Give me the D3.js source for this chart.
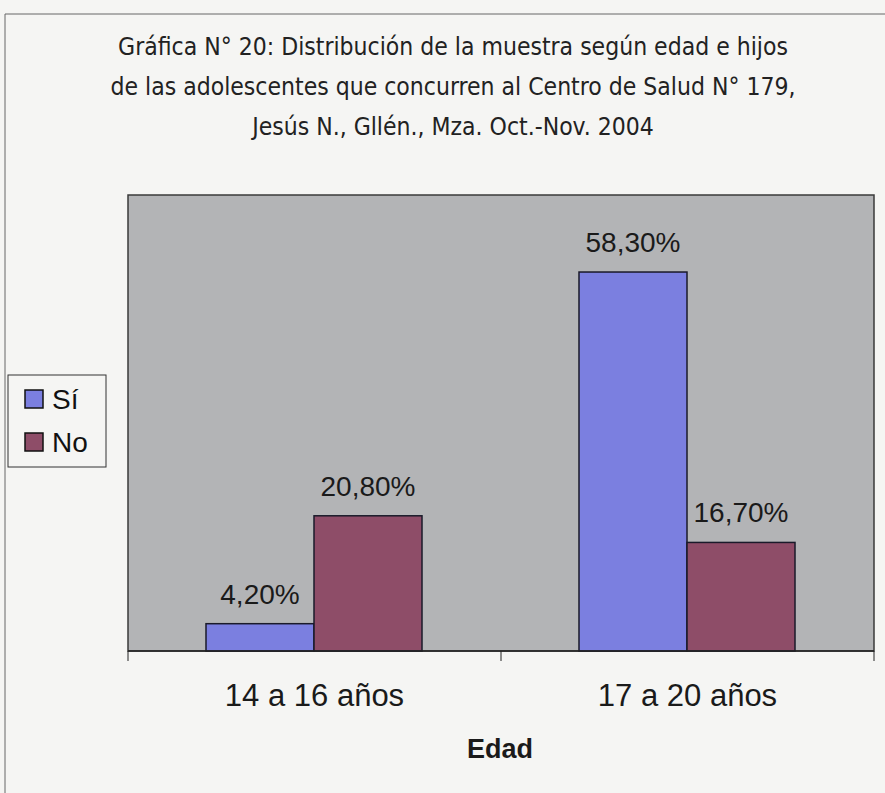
<!DOCTYPE html>
<html>
<head>
<meta charset="utf-8">
<script src="https://d3js.org/d3.v7.min.js"></script>
<style>
  body { margin: 0; background: #f5f5f3; }
  text { font-family: "Liberation Sans", Arial, sans-serif; }
</style>
</head>
<body>
<svg id="svg" width="885" height="793"></svg>
<script>
// data
var categories = ["14 a 16 años", "17 a 20 años"];
var series = ["Sí", "No"];
var siValues = [4.2, 58.3];
var noValues = [20.8, 16.7];
var valueLabels = [["4,20%", "20,80%"], ["58,30%", "16,70%"]];
var titleLines = [
  "Gráfica N° 20: Distribución de la muestra según edad e hijos",
  "de las adolescentes que concurren al Centro de Salud N° 179,",
  "Jesús N., Gllén., Mza. Oct.-Nov. 2004"
];
var colors = ["#7b7fe0", "#8e4d68"];

var svg = d3.select("#svg");
svg.append("rect").attr("width", 885).attr("height", 793).attr("fill", "#f5f5f3");

// outer chart frame
svg.append("path").attr("d", "M5,793 V14 H885").attr("fill", "none").attr("stroke", "#666").attr("stroke-width", 1);

var plot = { left: 128, right: 874, top: 195, bottom: 651 };

var x0 = d3.scaleBand().domain(categories).range([plot.left, plot.right]).padding(0);
var x1 = d3.scaleBand().domain(series).range([78, x0.bandwidth() - 79]).padding(0);
var y = d3.scaleLinear().domain([0, 70.15]).range([plot.bottom, plot.top]);

// title
svg.selectAll(".title").data(titleLines).enter().append("text")
  .attr("class", "title")
  .attr("x", 453)
  .attr("y", function (d, i) { return 55 + i * 40; })
  .attr("text-anchor", "middle")
  .style("font-family", "'DejaVu Sans Condensed', 'DejaVu Sans', sans-serif")
  .style("font-size", "24.5px")
  .attr("fill", "#222")
  .text(function (d) { return d; });

// plot area
svg.append("rect")
  .attr("x", plot.left).attr("y", plot.top)
  .attr("width", plot.right - plot.left).attr("height", plot.bottom - plot.top)
  .attr("fill", "#b3b4b6").attr("stroke", "#3a3a3a").attr("stroke-width", 1.5);

var rows = categories.map(function (c, i) {
  return { cat: c, vals: [siValues[i], noValues[i]], labels: valueLabels[i] };
});

var groups = svg.selectAll(".grp").data(rows).enter().append("g")
  .attr("transform", function (d) { return "translate(" + x0(d.cat) + ",0)"; });

groups.selectAll("rect").data(function (d) {
  return series.map(function (s, j) { return { s: s, v: d.vals[j], j: j }; });
}).enter().append("rect")
  .attr("x", function (d) { return x1(d.s); })
  .attr("y", function (d) { return y(d.v); })
  .attr("width", x1.bandwidth())
  .attr("height", function (d) { return y(0) - y(d.v); })
  .attr("fill", function (d) { return colors[d.j]; })
  .attr("stroke", "#1a1a2a").attr("stroke-width", 1.5);

groups.selectAll(".lbl").data(function (d) {
  return series.map(function (s, j) { return { s: s, v: d.vals[j], t: d.labels[j] }; });
}).enter().append("text")
  .attr("class", "lbl")
  .attr("x", function (d) { return x1(d.s) + x1.bandwidth() / 2; })
  .attr("y", function (d) { return y(d.v) - 20; })
  .attr("text-anchor", "middle")
  .style("font-size", "28px")
  .attr("fill", "#1a1a1a")
  .text(function (d) { return d.t; });

// x axis
var axis = svg.append("g").attr("transform", "translate(0," + plot.bottom + ")");
axis.append("line").attr("x1", plot.left).attr("x2", plot.right).attr("stroke", "#222").attr("stroke-width", 1.5);
var tickPos = categories.map(function (c) { return x0(c); }).concat([plot.right]);
axis.selectAll(".tick").data(tickPos).enter().append("line")
  .attr("x1", function (d) { return d; }).attr("x2", function (d) { return d; })
  .attr("y1", 0).attr("y2", 10).attr("stroke", "#222");
axis.selectAll(".cat").data(categories).enter().append("text")
  .attr("x", function (d) { return x0(d) + x0.bandwidth() / 2; })
  .attr("y", 55)
  .attr("text-anchor", "middle")
  .style("font-size", "31px")
  .attr("fill", "#1a1a1a")
  .text(function (d) { return d; });

svg.append("text")
  .attr("x", 500).attr("y", 758)
  .attr("text-anchor", "middle")
  .style("font-size", "27px").style("font-weight", "bold")
  .attr("fill", "#1a1a1a")
  .text("Edad");

// legend
var legend = svg.append("g").attr("transform", "translate(8,375)");
legend.append("rect").attr("width", 98).attr("height", 92)
  .attr("fill", "#f5f5f3").attr("stroke", "#333").attr("stroke-width", 1);
var li = legend.selectAll(".li").data(series).enter().append("g")
  .attr("transform", function (d, i) { return "translate(17," + (15 + i * 43) + ")"; });
li.append("rect").attr("width", 18).attr("height", 18)
  .attr("fill", function (d, i) { return colors[i]; })
  .attr("stroke", "#111").attr("stroke-width", 1.5);
li.append("text").attr("x", 27).attr("y", 19)
  .style("font-size", "28px").attr("fill", "#111")
  .text(function (d) { return d; });
</script>
</body>
</html>
